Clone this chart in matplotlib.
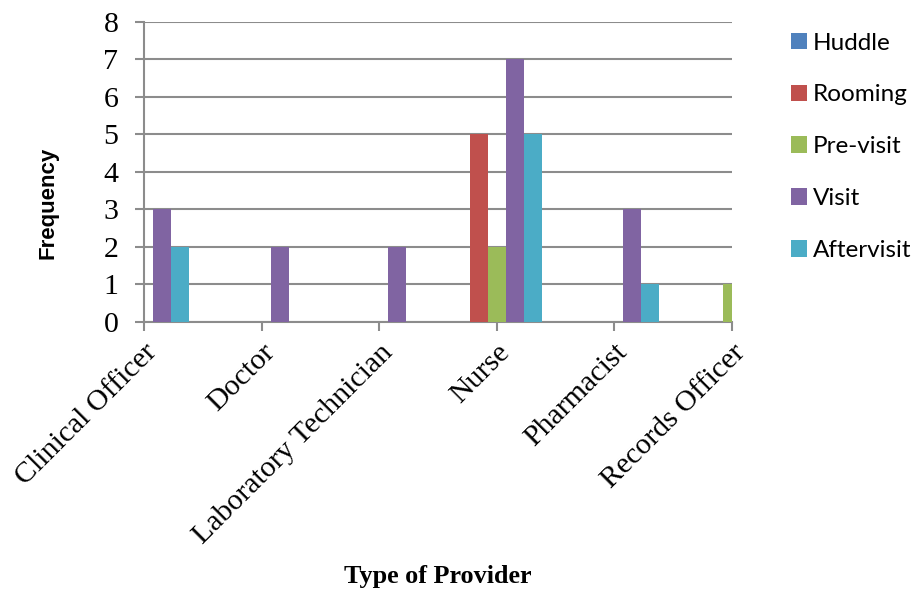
import matplotlib
matplotlib.use("Agg")
import matplotlib.pyplot as plt
import numpy as np

categories = ["Clinical Officer", "Doctor", "Laboratory Technician", "Nurse", "Pharmacist", "Records Officer"]
series = ["Huddle", "Rooming", "Pre-visit", "Visit", "Aftervisit"]
huddle = [0, 0, 0, 0, 0, 0]
rooming = [0, 0, 0, 5, 0, 0]
previsit = [0, 0, 0, 2, 0, 1]
visit = [3, 2, 2, 7, 3, 0]
aftervisit = [2, 0, 0, 5, 1, 0]
values = [huddle, rooming, previsit, visit, aftervisit]
colors = ["#4F81BD", "#C0504D", "#9BBB59", "#8064A2", "#4BACC6"]

fig = plt.figure(figsize=(9.14, 5.91), dpi=100)
ax = fig.add_axes([0.1575, 0.4552, 0.6433, 0.5076])

x = np.arange(len(categories))
w = 0.153
for i, (name, vals, c) in enumerate(zip(series, values, colors)):
    ax.bar(x + (i - 2) * w, vals, width=w, color=c, label=name, zorder=3, linewidth=0)

ax.set_xlim(0, len(categories) - 1)
ax.set_ylim(0, 8)
ax.set_yticks(range(0, 9))
ax.yaxis.grid(True, color="#8C8C8C", linewidth=1.5, zorder=0)
ax.set_axisbelow(True)
for s in ["top", "right"]:
    ax.spines[s].set_visible(False)
for s in ["left", "bottom"]:
    ax.spines[s].set_color("#8C8C8C")
    ax.spines[s].set_linewidth(1.5)
ax.tick_params(axis="both", color="#8C8C8C", width=1.5, length=6.5, direction="out")
ax.set_xticks(x)
ax.set_xticklabels(categories, rotation=45, ha="right", rotation_mode="anchor",
                   fontfamily="Liberation Serif", fontsize=21.5)
for lbl in ax.get_yticklabels():
    lbl.set_fontfamily("Liberation Serif")
    lbl.set_fontsize(21.5)
ax.tick_params(axis="y", pad=12)
ax.tick_params(axis="x", pad=6)

fig.text(0.053, 0.657, "Frequency", rotation=90, ha="center", va="center",
         fontfamily="Liberation Sans", fontweight="bold", fontsize=16)
fig.text(0.479, 0.024, "Type of Provider", ha="center", va="center",
         fontfamily="Liberation Serif", fontweight="bold", fontsize=18.8)

fig.legend(loc="upper left", bbox_to_anchor=(0.865, 0.945), frameon=False,
           prop={"family": "Lato", "size": 17.5}, handlelength=0.68, handleheight=0.68,
           handletextpad=0.25, labelspacing=1.27, borderaxespad=0, borderpad=0)

fig.savefig("out.png", dpi=100)
